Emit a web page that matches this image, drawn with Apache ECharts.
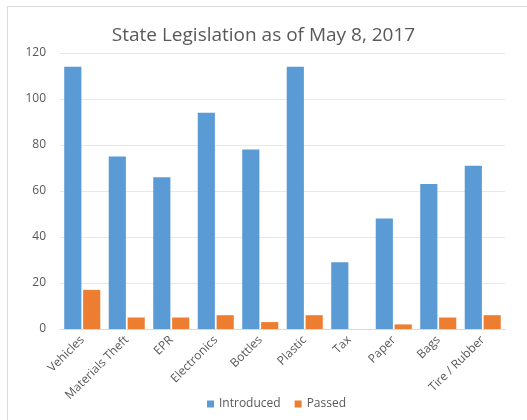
<!DOCTYPE html>
<html><head><meta charset="utf-8">
<script src="https://cdn.jsdelivr.net/npm/echarts@6/dist/echarts.min.js"></script>
<style>html,body{margin:0;padding:0;background:#fff}#c{width:527px;height:420px}</style>
</head><body><div id="c"></div>
<script>
const categories = ["Vehicles","Materials Theft","EPR","Electronics","Bottles","Plastic","Tax","Paper","Bags","Tire / Rubber"];
const introduced = [114,75,66,94,78,114,29,48,63,71];
const passed = [17,5,5,6,3,6,0,2,5,6];
const yTicks = {min:0,max:120,interval:20};

const chart = echarts.init(document.getElementById('c'), null, {renderer:'canvas'});
const font = 'Open Sans, Liberation Sans, sans-serif';
chart.setOption({
  animation:false,
  textStyle:{fontFamily:font},
  title:{text:'State Legislation as of May 8, 2017',left:'center',top:21,
    textStyle:{fontSize:19,fontWeight:'normal',color:'#595959',fontFamily:font}},
  graphic:[{type:'rect',shape:{x:7.5,y:6.5,width:530,height:430},style:{fill:'none',stroke:'#d9d9d9',lineWidth:1},silent:true}],
  legend:{bottom:5,left:202,itemWidth:7,itemHeight:7,itemGap:14,icon:'rect',
    textStyle:{fontSize:12,color:'#595959',fontFamily:font},data:['Introduced','Passed']},
  grid:{left:60,right:22,top:53,bottom:91,containLabel:false},
  xAxis:{type:'category',data:categories,
    axisLine:{lineStyle:{color:'#d9d9d9'}},axisTick:{show:false},
    axisLabel:{rotate:45,fontSize:12,color:'#595959',interval:0,margin:9,fontFamily:font}},
  yAxis:{type:'value',min:yTicks.min,max:yTicks.max,interval:yTicks.interval,
    axisLine:{show:false},axisTick:{show:false},
    axisLabel:{fontSize:12,color:'#595959',margin:14,fontFamily:font},
    splitLine:{lineStyle:{color:'#e8e8e8'}}},
  series:[
    {name:'Introduced',type:'bar',data:introduced,itemStyle:{color:'#5B9BD5'},barGap:'10%',barCategoryGap:'19%'},
    {name:'Passed',type:'bar',data:passed,itemStyle:{color:'#ED7D31'}}
  ]
});
</script></body></html>
